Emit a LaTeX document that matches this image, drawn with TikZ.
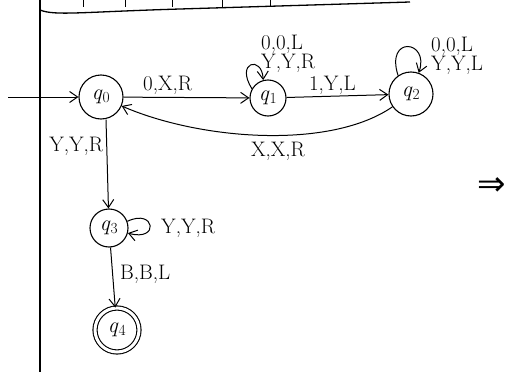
\documentclass[tikz,border=0pt]{standalone}
\usepackage{fontspec}
\newfontfamily\symfont{DejaVu Sans}
\usetikzlibrary{arrows.meta}
\newcommand{\qs}[1]{\textit{q}\textsubscript{#1}}
\begin{document}
\begin{tikzpicture}[x=1pt,y=-1pt,
  st/.style={draw,circle,line width=1.1pt,minimum size=42pt,inner sep=0pt,font=\fontsize{22}{24}\selectfont},
  acc/.style={st,double,double distance=3pt,minimum size=44pt},
  edge/.style={draw,line width=1pt,-{Straight Barb[length=8pt,width=11pt]}},
  lbl/.style={font=\fontsize{21}{23}\selectfont,inner sep=1pt},
  ink/.style={line width=1.3pt}]
\useasboundingbox (0,0) rectangle (525,372);
% tape and border
\draw[ink] (40,372) -- (40,0);
\draw[ink] (40,10) .. controls (55,16) and (80,12) .. (180,9) -- (410,2);
\foreach \x in {83,125,172,222,270}{\draw[line width=0.9pt] (\x,0) -- (\x,7);}
% states
\node[st,minimum size=44pt] (q0) at (101,97) {\qs{0}};
\node[st,minimum size=36pt] (q1) at (268,98) {\qs{1}};
\node[st,minimum size=44pt] (q2) at (411,94) {\qs{2}};
\node[st,minimum size=38pt] (q3) at (109,228) {\qs{3}};
\node[acc] (q4) at (117,330) {\qs{4}};
\coordinate (start) at (8,97);
% edges
\draw[edge] (start) -- (q0);
\draw[edge] (q0) -- node[lbl,above=1pt,pos=0.35] {0,X,R} (q1);
\draw[edge] (q1) -- node[lbl,above=0pt,pos=0.45] {1,Y,L} (q2);
\draw[edge] (q2) .. controls (330,150) and (200,140) .. node[lbl,below=5pt,pos=0.45] {X,X,R} (q0);
\draw[edge] (q0.south) ++(5,0) coordinate (q0s) -- node[lbl,left=2pt,pos=0.3] {Y,Y,R} (q3);
\draw[edge] (q3) -- node[lbl,right=6pt,pos=0.45] {B,B,L} (q4);
% loops
\draw[edge] (q1.150) .. controls (235,62) and (262,55) .. (q1.105);
\node[lbl,align=left,anchor=south west] (l1) at (260,74) {0,0,L\\[-4pt]Y,Y,R};
\draw[edge] (q2.125) .. controls (385,35) and (430,40) .. (q2.70);
\node[lbl,align=left,anchor=south west] (l2) at (430,76) {0,0,L\\[-4pt]Y,Y,L};
\draw[edge] (q3.20) .. controls (155,208) and (160,242) .. (q3.-15);
\node[lbl,anchor=west] (l3) at (160,228) {Y,Y,R};
% implication arrow
\node[font=\symfont\fontsize{34}{34}\selectfont] (impl) at (492,187) {⇒};
\end{tikzpicture}
\end{document}
